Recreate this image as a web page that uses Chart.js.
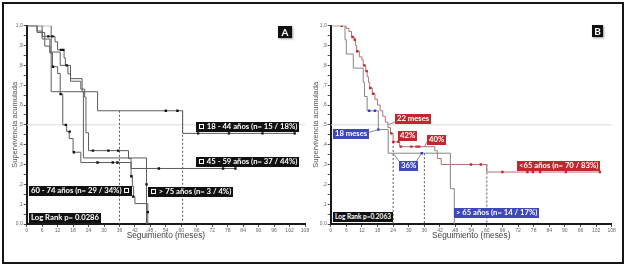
<!DOCTYPE html>
<html>
<head>
<meta charset="utf-8">
<script src="https://cdn.jsdelivr.net/npm/chart.js@4.4.1/dist/chart.umd.min.js"></script>
<style>
  body { margin: 0; width: 627px; height: 267px; background: #fff; position: relative; overflow: hidden; font-family: Lato, "Open Sans", sans-serif; }
  #frame { position: absolute; left: 2px; top: 2px; width: 618px; height: 258px; border: 2px solid #161616; }
  canvas { position: absolute; top: 0; }
  #chartA { left: 0; }
  #chartB { left: 300px; }
  .tag { position: absolute; color: #fff; font-weight: bold; font-size: 7.7px; line-height: 9.5px; padding: 0 2px; white-space: nowrap; }
  .k { background: #111; }
  .r { background: #c1272d; }
  .b { background: #3f48b8; }
  .sq { display: inline-block; width: 3px; height: 3px; border: 1px solid #fff; vertical-align: 0; margin: 0 1px; }
  .panel { position: absolute; background: #111; color: #fff; font: bold 10px Lato, sans-serif; text-align: center; line-height: 12px; box-shadow: 1px 1px 2px #999; }
</style>
</head>
<body>
<div id="frame"></div>
<canvas id="chartA" width="313" height="267"></canvas>
<canvas id="chartB" width="327" height="267"></canvas>

<div class="panel" style="left:278px;top:26px;width:14px;height:12px">A</div>
<div class="tag k" style="left:196px;top:122px"><span class="sq"></span> 18 - 44 años (n= 15 / 18%)</div>
<div class="tag k" style="left:196px;top:157px"><span class="sq"></span> 45 - 59 años (n= 37 / 44%)</div>
<div class="tag k" style="left:29px;top:186px">60 - 74 años (n= 29 / 34%) <span class="sq"></span></div>
<div class="tag k" style="left:148px;top:187px"><span class="sq"></span> &gt; 75 años (n= 3 / 4%)</div>
<div class="tag k" style="left:29px;top:213px">Log Rank p= 0.0286</div>

<div class="panel" style="left:592px;top:25px;width:11px;height:12px">B</div>
<div class="tag r" style="left:395px;top:114px">22 meses</div>
<div class="tag b" style="left:333px;top:129px">18 meses</div>
<div class="tag r" style="left:398px;top:131px">42%</div>
<div class="tag r" style="left:427px;top:135px">40%</div>
<div class="tag b" style="left:399px;top:161px">36%</div>
<div class="tag r" style="left:517px;top:161px">&lt;65 años (n= 70 / 83%)</div>
<div class="tag b" style="left:454px;top:208px">&gt; 65 años (n= 14 / 17%)</div>
<div class="tag k" style="left:333px;top:212px;font-size:6.5px">Log Rank p=0.2063</div>

<script>
// axis ticks
const X_MAX = 108;
const X_STEP = 6;
const Y_STEP = 0.05;

// Panel A: 18 - 44 años
const A_T_1844 = [0, 6, 9, 13, 17, 21.5, 27.5, 60.5, 104];
const A_S_1844 = [1, 0.933, 0.867, 0.8, 0.733, 0.667, 0.571, 0.457, 0.457];
const A_CT_1844 = [54, 58.5, 66.5, 78.5, 91.5, 104];
const A_CS_1844 = [0.571, 0.571, 0.457, 0.457, 0.457, 0.457];

// Panel A: 45 - 59 años
const A_T_4559 = [0, 4, 6, 11, 12, 14.5, 15, 16, 17, 21, 22.5, 23, 24, 39.5, 40.5, 81];
const A_S_4559 = [1, 0.973, 0.946, 0.919, 0.878, 0.838, 0.8, 0.757, 0.72, 0.68, 0.64, 0.46, 0.37, 0.33, 0.28, 0.28];
const A_CT_4559 = [8.4, 10, 13.3, 14.2, 15.5, 25.7, 31.7, 35.5, 51.3, 76.2, 81];
const A_CS_4559 = [0.946, 0.946, 0.878, 0.878, 0.8, 0.37, 0.37, 0.37, 0.28, 0.28, 0.28];

// Panel A: 60 - 74 años
const A_T_6074 = [0, 4, 7, 9, 10, 12, 13, 14, 15.5, 16.5, 18, 21, 40.5, 41, 41.5, 42, 47];
const A_S_6074 = [1, 0.966, 0.897, 0.862, 0.793, 0.759, 0.655, 0.5, 0.466, 0.431, 0.362, 0.31, 0.241, 0.19, 0.138, 0.103, 0];
const A_CT_6074 = [10.2, 13.2, 15.2, 16.7, 18.3, 27.5, 33.4, 35.2, 40.6, 41.3, 47];
const A_CS_6074 = [0.793, 0.655, 0.5, 0.466, 0.362, 0.31, 0.31, 0.31, 0.241, 0.138, 0.06];

// Panel A: > 75 años
const A_T_75 = [0, 9.5, 22, 46.5];
const A_S_75 = [1, 0.667, 0.333, 0];
const A_CT_75 = [46.5];
const A_CS_75 = [0.2];

// Panel A: dashed reference lines
const A_REF_T = [36, 60.5];
const A_REF_TOP = [0.571, 0.571];

// Panel B: < 65 años
const B_T_LT65 = [0, 6, 7, 8, 9, 9.5, 10, 11, 12, 12.5, 13.5, 14, 14.5, 15, 16, 17, 18, 19, 20, 21, 22, 23, 24, 26.5, 40, 41, 42.5, 60, 103.5];
const B_S_LT65 = [1, 0.986, 0.971, 0.943, 0.929, 0.9, 0.871, 0.843, 0.829, 0.8, 0.771, 0.743, 0.714, 0.686, 0.657, 0.629, 0.6, 0.571, 0.543, 0.514, 0.486, 0.457, 0.414, 0.39, 0.37, 0.33, 0.3, 0.262, 0.262];
const B_CT_LT65 = [4.2, 8.4, 9.3, 10.2, 12.9, 13.8, 15.2, 16.3, 23.3, 24.1, 26, 27, 31, 33, 34, 53.9, 57.7, 66, 75.6, 77.7, 80.5, 90.4, 103.5];
const B_CS_LT65 = [1, 0.943, 0.929, 0.871, 0.8, 0.771, 0.686, 0.657, 0.457, 0.414, 0.414, 0.39, 0.39, 0.39, 0.39, 0.3, 0.3, 0.262, 0.262, 0.262, 0.262, 0.262, 0.262];

// Panel B: > 65 años
const B_T_GT65 = [0, 5.5, 6, 8.7, 12.5, 13, 14, 18.3, 22.1, 46, 47.5];
const B_S_GT65 = [1, 0.929, 0.857, 0.786, 0.714, 0.643, 0.571, 0.476, 0.357, 0.178, 0];
const B_CT_GT65 = [14.8, 17, 18.3, 35];
const B_CS_GT65 = [0.571, 0.571, 0.476, 0.357];

// Panel B: dashed reference lines and label leaders
const B_REF_T = [24, 36, 60];
const B_REF_TOP = [0.414, 0.357, 0.3];
const B_LEAD_FROM = [[22, 0.5], [18.3, 0.476], [36, 0.39], [24, 0.357], [35, 0.357]];
const B_LEAD_TO = [[24.7, 0.514], [14.8, 0.462], [37.1, 0.416], [26.2, 0.318], [33, 0.318]];

const pts = (t, s) => t.map((x, i) => ({ x, y: s[i] }));

function curve(t, s, color) {
    return { type: "line", data: pts(t, s), borderColor: color, borderWidth: 1, pointRadius: 0, stepped: "before", fill: false };
}

function marks(t, s, color) {
    return { type: "scatter", data: pts(t, s), pointStyle: "rect", pointRadius: 1.7, backgroundColor: color, borderWidth: 0 };
}

function segment(a, b, color, dash) {
    return { type: "line", data: [{ x: a[0], y: a[1] }, { x: b[0], y: b[1] }], borderColor: color, borderWidth: 1, borderDash: dash || [], pointRadius: 0, fill: false };
}

function refLines(t, top) {
    return t.map((x, i) => segment([x, top[i]], [x, 0], "#555", [2, 2]));
}

function halfLine() {
    return segment([0, 0.5], [X_MAX, 0.5], "#dadada");
}

function yLabel(value) {
    const v = Math.round(value * 100);
    if (v % 10) return "";
    if (v === 100) return "1,0";
    if (v === 0) return "0,0";
    return "," + v / 10;
}

function buildScales(yWidth) {
    const tickFont = { size: 5, family: "Liberation Sans" };
    return {
        x: {
            type: "linear", min: 0, max: X_MAX,
            ticks: { stepSize: X_STEP, autoSkip: false, maxRotation: 0, font: tickFont, color: "#666", padding: 1 },
            grid: { drawOnChartArea: false, tickLength: 3, tickColor: "#555" },
            border: { color: "#1a1a1a", width: 2 },
            title: { display: true, text: "Seguimiento (meses)", font: { size: 8.3, family: "Liberation Sans" }, color: "#444", padding: 0 },
            afterFit(scale) { scale.height = 17; },
        },
        y: {
            type: "linear", min: 0, max: 1,
            ticks: { stepSize: Y_STEP, autoSkip: false, font: tickFont, color: "#666", padding: 1, callback: yLabel },
            grid: { drawOnChartArea: false, tickLength: 3, tickColor: "#555" },
            border: { color: "#1a1a1a", width: 2 },
            title: { display: true, text: "Supervivencia acumulada", font: { size: 7.5, family: "Liberation Sans" }, color: "#555", padding: 0 },
            afterFit(scale) { scale.width = yWidth; },
        },
    };
}

function makeChart(id, datasets, padding, yWidth) {
    new Chart(document.getElementById(id), {
        data: { datasets },
        options: {
            responsive: false,
            animation: false,
            devicePixelRatio: 1,
            layout: { padding },
            plugins: { legend: { display: false }, tooltip: { enabled: false } },
            scales: buildScales(yWidth),
        },
    });
}

const lineA = "#5c5c5c";
const markA = "#111";
makeChart("chartA", [
    marks(A_CT_1844, A_CS_1844, markA),
    marks(A_CT_4559, A_CS_4559, markA),
    marks(A_CT_6074, A_CS_6074, markA),
    marks(A_CT_75, A_CS_75, markA),
    curve(A_T_1844, A_S_1844, lineA),
    curve(A_T_4559, A_S_4559, lineA),
    curve(A_T_6074, A_S_6074, lineA),
    curve(A_T_75, A_S_75, lineA),
    ...refLines(A_REF_T, A_REF_TOP),
    halfLine(),
], { left: 10, top: 25.7, right: 8, bottom: 26 }, 16.7);

const red = "#c1272d";
const blue = "#2f3fd0";
makeChart("chartB", [
    marks(B_CT_LT65, B_CS_LT65, red),
    marks(B_CT_GT65, B_CS_GT65, blue),
    curve(B_T_LT65, B_S_LT65, "#b37373"),
    curve(B_T_GT65, B_S_GT65, "#858585"),
    ...B_LEAD_FROM.map((p, i) => segment(p, B_LEAD_TO[i], "#8a8a8a")),
    ...refLines(B_REF_T, B_REF_TOP),
    halfLine(),
], { left: 11.9, top: 25.7, right: 15.3, bottom: 26 }, 18.8);
</script>
</body>
</html>
